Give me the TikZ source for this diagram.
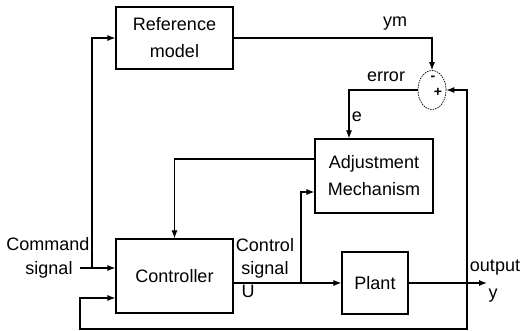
\documentclass[tikz,border=0pt]{standalone}
\usepackage{fontspec}
\setmainfont{Liberation Sans}
\usetikzlibrary{arrows.meta,shapes.geometric,calc}
\begin{document}
\begin{tikzpicture}[x=1pt,y=-1pt,
  txt/.style={font=\fontsize{18}{27}\selectfont},
  box/.style={draw, line width=1.1pt, rectangle, inner sep=0pt, align=center, txt},
  lbl/.style={inner sep=0pt, txt},
  conn/.style={line width=1.1pt},
  arr/.style={conn, -{Latex[length=8pt,width=6pt]}},
]
\useasboundingbox (0,0) rectangle (520,331);
% blocks
\node[box, minimum width=117pt, minimum height=62pt] (ref) at (174.5,38) {Reference\\model};
\node[box, minimum width=117pt, minimum height=74pt] (ctrl) at (174.5,276) {Controller};
\node[box, minimum width=118pt, minimum height=74pt] (adj) at (374,176) {Adjustment\\Mechanism};
\node[box, minimum width=66pt, minimum height=62pt] (plant) at (375,283) {Plant};
\node[draw, ellipse, line width=0.7pt, dash pattern=on 1.5pt off 1pt, minimum width=28pt, minimum height=39pt, inner sep=0pt] (sum) at (432,90) {};
\node[lbl] (minus) at (433,78) {\fontsize{14}{14}\selectfont\textbf{-}};
\node[lbl] (plus) at (438,92) {\fontsize{14}{14}\selectfont\textbf{+}};
% coordinates
\coordinate (cmd) at (80,268);
\coordinate (jcmd) at (92,268);
\coordinate (jc) at (301,283);
\coordinate (jout) at (467,283);
\coordinate (out) at (487,283);
\coordinate (fb) at (80,329);
\coordinate (fbin) at (80,298);
\coordinate (eh) at (349,91);
% connectors
\draw[arr] (ref.east) -| (sum.north);
\draw[arr] (sum.west) -- (sum.west -| eh) -- (eh |- adj.north);
\draw[arr] ($(adj.west)+(0,-17)$) -| (ctrl.north);
\draw[arr] (cmd) -- (ctrl.west |- cmd);
\draw[arr] (jcmd) |- (ref.west);
\draw[arr] (ctrl.east |- plant.west) -- (plant.west);
\draw[arr] (jc) |- ($(adj.west)+(0,16)$);
\draw[arr] (plant.east) -- (out);
\draw[arr] (jout) |- (sum.east);
\draw[arr] (jout) |- (fb) -- (fbin) -- (ctrl.west |- fbin);
% labels
\node[lbl, anchor=base] (ym) at (395,27) {ym};
\node[lbl, anchor=base] (err) at (386,82) {error};
\node[lbl, anchor=base] (e) at (357,122) {e};
\node[lbl, anchor=base] (c1) at (48,251) {Command};
\node[lbl, anchor=base] (c2) at (49,275) {signal};
\node[lbl, anchor=base] (k1) at (265,252) {Control};
\node[lbl, anchor=base] (k2) at (265,275) {signal};
\node[lbl, anchor=base] (u) at (248,298) {U};
\node[lbl, anchor=base] (o) at (495,272) {output};
\node[lbl, anchor=base] (y) at (493,299) {y};
\end{tikzpicture}
\end{document}
